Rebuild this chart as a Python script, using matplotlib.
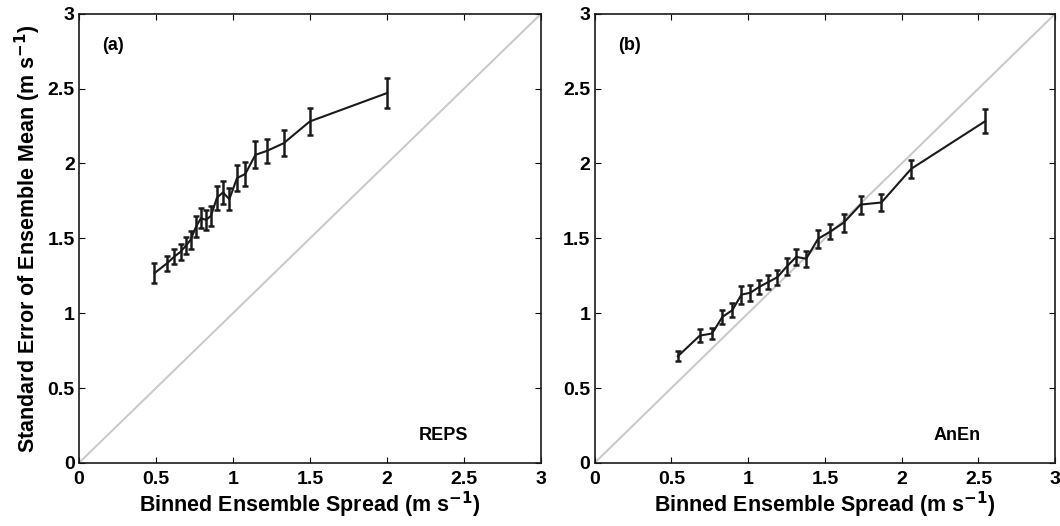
import numpy as np
import matplotlib.pyplot as plt

plt.rcParams['font.family'] = ['Liberation Sans', 'DejaVu Sans']
plt.rcParams['font.weight'] = 'bold'
plt.rcParams['mathtext.default'] = 'bf'

# Panel (a): REPS
spread_a = [0.49, 0.573, 0.619, 0.66, 0.695, 0.725, 0.76, 0.792, 0.825, 0.857,
            0.896, 0.935, 0.976, 1.026, 1.08, 1.145, 1.221, 1.329, 1.498, 2.0]
err_a = [1.267, 1.334, 1.378, 1.41, 1.452, 1.49, 1.578, 1.634, 1.623, 1.65,
         1.772, 1.806, 1.761, 1.902, 1.93, 2.057, 2.084, 2.135, 2.28, 2.47]
bar_a = [0.065, 0.05, 0.05, 0.055, 0.055, 0.06, 0.07, 0.065, 0.065, 0.065,
         0.08, 0.075, 0.075, 0.085, 0.08, 0.09, 0.08, 0.085, 0.09, 0.1]

# Panel (b): AnEn
spread_b = [0.542, 0.685, 0.765, 0.832, 0.897, 0.956, 1.014, 1.073, 1.13, 1.19,
            1.25, 1.313, 1.378, 1.455, 1.535, 1.623, 1.732, 1.868, 2.062, 2.544]
err_b = [0.712, 0.85, 0.864, 0.975, 1.02, 1.124, 1.136, 1.176, 1.207, 1.24,
         1.31, 1.376, 1.363, 1.496, 1.545, 1.605, 1.725, 1.739, 1.964, 2.282]
bar_b = [0.033, 0.045, 0.04, 0.045, 0.045, 0.06, 0.055, 0.045, 0.045, 0.05,
         0.055, 0.055, 0.055, 0.06, 0.05, 0.06, 0.06, 0.06, 0.06, 0.08]

ticks = [0, 0.5, 1, 1.5, 2, 2.5, 3]
tick_labels = ['0', '0.5', '1', '1.5', '2', '2.5', '3']

fig = plt.figure(figsize=(10.6, 5.26), dpi=100)
ax_a = fig.add_axes([0.0745, 0.12, 0.436, 0.854])
ax_b = fig.add_axes([0.561, 0.12, 0.4345, 0.854])

panels = [(ax_a, spread_a, err_a, bar_a, '(a)', 'REPS'),
          (ax_b, spread_b, err_b, bar_b, '(b)', 'AnEn')]

for ax, x, y, e, tag, name in panels:
    ax.plot([0, 3], [0, 3], color='#c8c8c8', lw=1.4, zorder=1)
    ax.errorbar(x, y, yerr=e, color='#1a1a1a', lw=1.5, elinewidth=1.8,
                capsize=2.5, capthick=1.8, zorder=2)
    ax.set_xlim(0, 3)
    ax.set_ylim(0, 3)
    ax.set_xticks(ticks)
    ax.set_xticklabels(tick_labels, fontweight='bold')
    ax.set_yticks(ticks)
    ax.set_yticklabels(tick_labels, fontweight='bold')
    ax.tick_params(direction='in', top=True, right=True, length=4,
                   labelsize=14)
    ax.tick_params(axis='x', pad=6)
    ax.tick_params(axis='y', pad=3)
    for s in ax.spines.values():
        s.set_linewidth(1.2)
        s.set_color('#1a1a1a')
    ax.set_xlabel('Binned Ensemble Spread (m s$^{-1}$)', fontsize=15.5,
                  fontweight='bold', labelpad=1)
    ax.text(0.05, 0.93, tag, transform=ax.transAxes, fontsize=13,
            fontweight='bold', va='center', ha='left')
    ax.text(0.735, 0.06, name, transform=ax.transAxes, fontsize=13,
            fontweight='bold', va='center', ha='left')

ax_a.set_ylabel('Standard Error of Ensemble Mean (m s$^{-1}$)', fontsize=15.5,
                fontweight='bold', labelpad=3)

fig.savefig('out.png', dpi=100)
